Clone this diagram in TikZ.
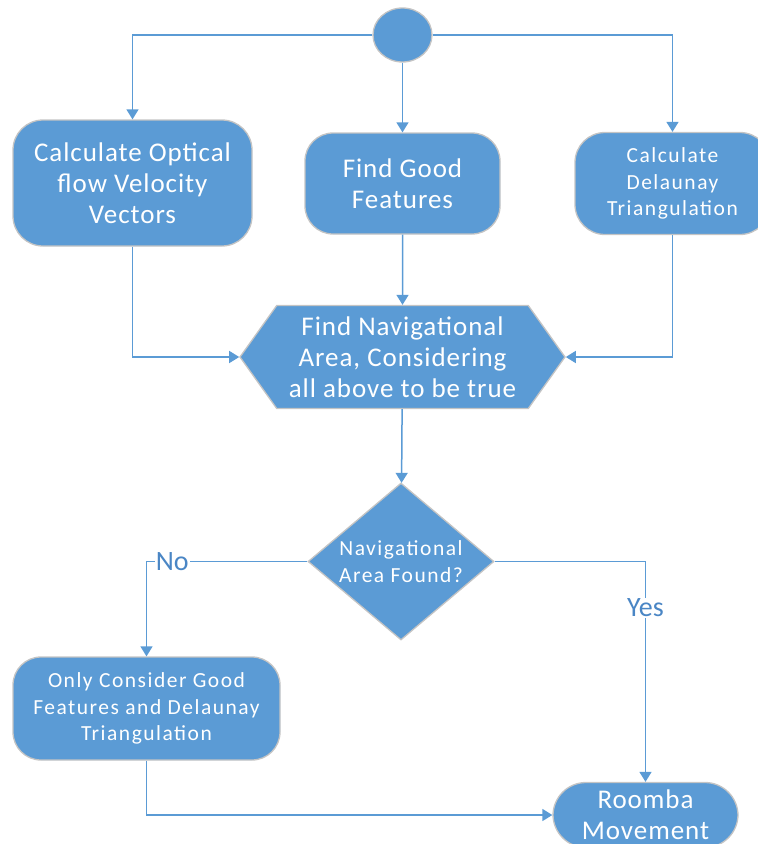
\documentclass[tikz,border=0pt]{standalone}
\usepackage{fontspec}
\setmainfont{Carlito}
\usetikzlibrary{arrows.meta,shapes.geometric,shapes.symbols}
\definecolor{boxblue}{HTML}{5B9BD5}
\definecolor{rimgrey}{HTML}{C4C4C4}
\definecolor{labelblue}{HTML}{4A86C5}
\newcommand{\bigtxt}{\addfontfeature{LetterSpace=3.5}\fontsize{27}{31}\selectfont}
\newcommand{\smalltxt}{\addfontfeature{LetterSpace=7}\fontsize{21.5}{26.5}\selectfont}
\tikzset{
  shaperim/.style={draw=rimgrey, line width=1.3pt, fill=boxblue, text=white, align=center, inner sep=0pt},
  roundbox/.style={shaperim, rectangle, rounded corners=#1},
  flow/.style={draw=boxblue, line width=1.5pt, -{Triangle[width=12pt,length=10pt]}},
  answer/.style={fill=white, text=labelblue, inner sep=1pt, font=\fontsize{28}{30}\selectfont}
}

\begin{document}
\begin{tikzpicture}[line cap=butt,line join=miter,x=1pt,y={(0pt,-1pt)}]
    \useasboundingbox (0,0) rectangle (758,844);
    \clip (0,0) rectangle (758,844);

    % Shapes
    \draw(402.5,35) node[shaperim, ellipse, minimum width=59, minimum height=54] (start) {};
    \draw(132.5,183) node[roundbox=30pt, minimum width=239, minimum height=126, font=\bigtxt] (optical) {Calculate Optical\\flow Velocity\\Vectors};
    \draw(402.5,183.5) node[roundbox=28pt, minimum width=195, minimum height=101, font=\bigtxt] (features) {Find Good\\Features};
    \draw(672.5,183.5) node[roundbox=30pt, minimum width=195, minimum height=102, font=\smalltxt] (delaunay) {Calculate\\Delaunay\\Triangulation};
    \draw(402.5,357) node[shaperim, signal, signal to=west and east, signal pointer angle=109, minimum width=325, minimum height=103, font=\bigtxt] (navarea) {Find Navigational\\Area, Considering\\all above to be true};
    \draw(401,561.5) node[shaperim, diamond, aspect=1.2, minimum width=186, minimum height=157, font=\smalltxt] (found) {Navigational\\Area Found?};
    \draw(146.5,708.5) node[roundbox=28pt, minimum width=267, minimum height=103, font=\smalltxt] (onlyfd) {Only Consider Good\\Features and Delaunay\\Triangulation};
    \draw(645.5,815) node[roundbox=33pt, minimum width=185, minimum height=65, font=\bigtxt] (roomba) {Roomba\\Movement};

    % Straight connectors
    \foreach \source/\target in {start/features, features/navarea, navarea/found} {
            \draw[flow] (\source) -- (\target);
        }

    % Elbow connectors
    \draw[flow] (start.west) -| (optical.north);
    \draw[flow] (start.east) -| (delaunay.north);
    \draw[flow] (optical.south) |- (navarea.west);
    \draw[flow] (delaunay.south) |- (navarea.east);
    \draw[flow] (found.west) -| node[answer, pos=0.42] {No} (onlyfd.north);
    \draw[flow] (found.east) -| node[answer, pos=0.605] {Yes} (roomba.north);
    \draw[flow] (onlyfd.south) |- (roomba.west);
\end{tikzpicture}
\end{document}
